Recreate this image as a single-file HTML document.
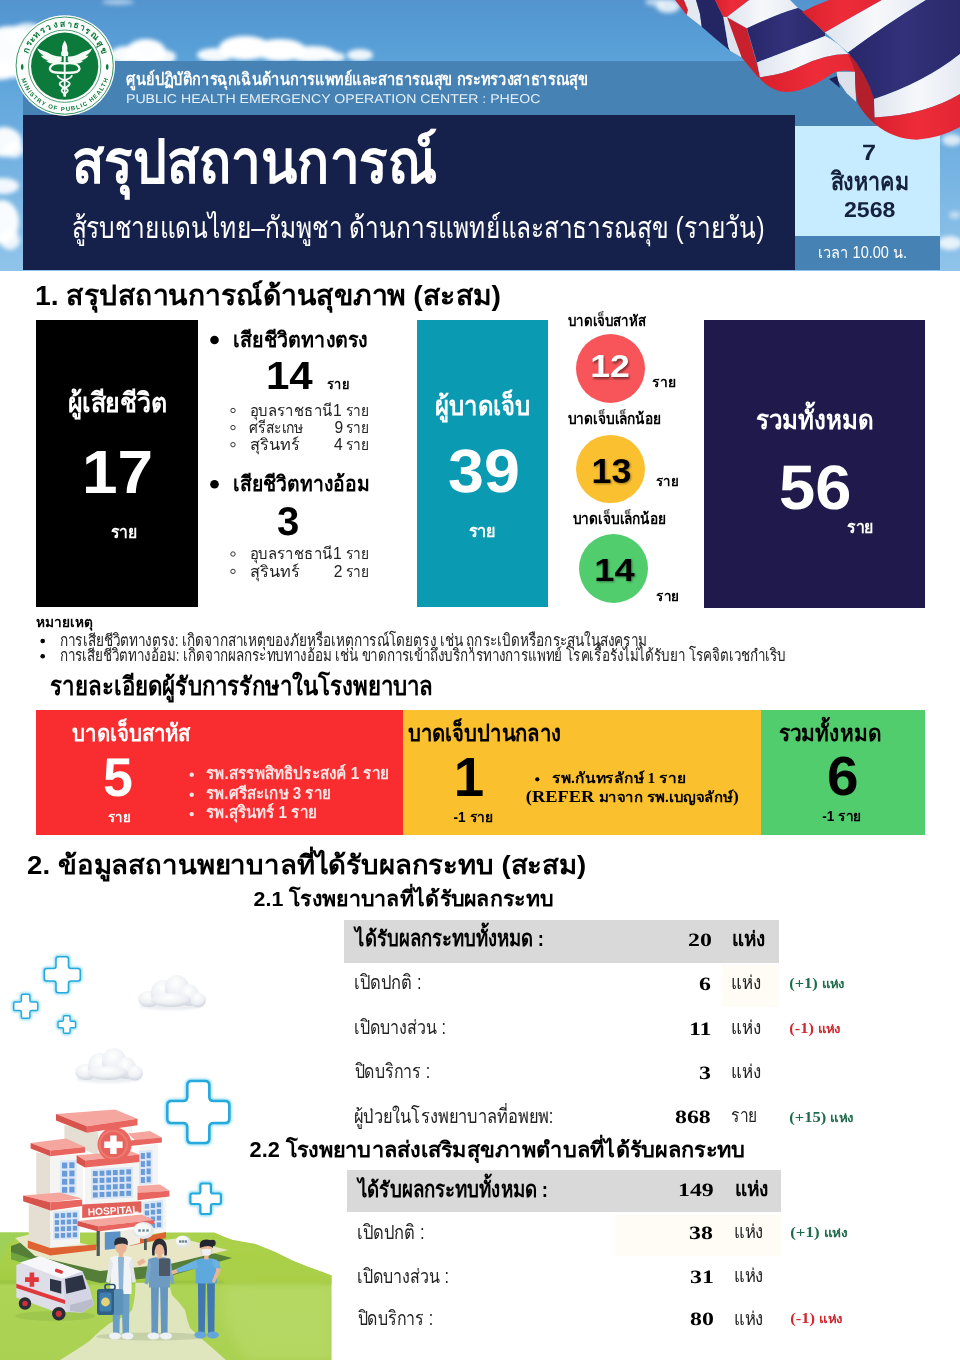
<!DOCTYPE html>
<html lang="th"><head><meta charset="utf-8"><title>สรุปสถานการณ์ สู้รบชายแดนไทย-กัมพูชา ด้านการแพทย์และสาธารณสุข</title>
<style>
html,body{margin:0;padding:0}
body{width:960px;height:1360px;position:relative;overflow:hidden;background:#fff;font-family:"Liberation Sans",sans-serif}
.a,.n,svg.l{position:absolute}
svg.l{left:0;top:0}
.n{white-space:nowrap;line-height:1;text-rendering:geometricPrecision;-webkit-font-smoothing:antialiased}
</style></head><body>
<svg class="l" width="960" height="271" viewBox="0 0 960 271">
<defs>
<linearGradient id="sky" x1="0" y1="0" x2="0" y2="1"><stop offset="0" stop-color="#5394cf"/><stop offset=".22" stop-color="#5aa2d9"/><stop offset=".6" stop-color="#74b2e2"/><stop offset="1" stop-color="#90c4ea"/></linearGradient>
<filter id="b2" x="-20%" y="-20%" width="140%" height="140%"><feGaussianBlur stdDeviation="2"/></filter>
<filter id="b3" x="-20%" y="-20%" width="140%" height="140%"><feGaussianBlur stdDeviation="3.5"/></filter>
<linearGradient id="fw" x1="0" y1="0" x2="1" y2="0"><stop offset="0" stop-color="#dfe4ee"/><stop offset=".5" stop-color="#f6f8fb"/><stop offset="1" stop-color="#e6eaf2"/></linearGradient>
<linearGradient id="fr" x1="0" y1="0" x2="1" y2="0"><stop offset="0" stop-color="#d8202c"/><stop offset=".5" stop-color="#ee2c39"/><stop offset="1" stop-color="#e32634"/></linearGradient>
<linearGradient id="fn" x1="0" y1="0" x2="1" y2="0"><stop offset="0" stop-color="#28276a"/><stop offset=".5" stop-color="#32317a"/><stop offset="1" stop-color="#2b2a6c"/></linearGradient>
</defs>
<rect width="960" height="271" fill="url(#sky)"/>
<g filter="url(#b2)">
<ellipse cx="10" cy="52" rx="33" ry="26" fill="#fff" opacity="0.97"/>
<ellipse cx="28" cy="36" rx="20" ry="13" fill="#fff" opacity="0.85"/>
<ellipse cx="-2" cy="70" rx="20" ry="10" fill="#fff" opacity="0.92"/>
<ellipse cx="126" cy="55" rx="16" ry="9" fill="#fff" opacity="0.96"/>
<ellipse cx="146" cy="52" rx="20" ry="13" fill="#fff" opacity="0.98"/>
<ellipse cx="164" cy="57" rx="12" ry="7" fill="#fff" opacity="0.92"/>
<ellipse cx="215" cy="55" rx="18" ry="7" fill="#fff" opacity="0.95"/>
<ellipse cx="245" cy="48" rx="26" ry="12" fill="#fff" opacity="1"/>
<ellipse cx="280" cy="50" rx="26" ry="11" fill="#fff" opacity="1"/>
<ellipse cx="312" cy="54" rx="24" ry="8" fill="#fff" opacity="0.97"/>
<ellipse cx="335" cy="57" rx="10" ry="5" fill="#fff" opacity="0.9"/>
<ellipse cx="360" cy="55" rx="13" ry="6" fill="#fff" opacity="0.9"/>
<ellipse cx="4" cy="142" rx="18" ry="15" fill="#fff" opacity="0.95"/>
<ellipse cx="14" cy="150" rx="10" ry="8" fill="#fff" opacity="0.8"/>
<ellipse cx="3" cy="186" rx="16" ry="8" fill="#fff" opacity="0.9"/>
<ellipse cx="2" cy="222" rx="17" ry="22" fill="#fff" opacity="0.95"/>
<ellipse cx="10" cy="240" rx="10" ry="10" fill="#fff" opacity="0.85"/>
<ellipse cx="668" cy="6" rx="12" ry="7" fill="#fff" opacity="0.8"/>
<ellipse cx="655" cy="2" rx="10" ry="4" fill="#fff" opacity="0.6"/>
<ellipse cx="118" cy="2" rx="16" ry="3" fill="#fff" opacity="0.5"/>
<ellipse cx="950" cy="4" rx="12" ry="5" fill="#fff" opacity="0.6"/>
<ellipse cx="952" cy="140" rx="10" ry="6" fill="#fff" opacity="0.75"/>
<ellipse cx="950" cy="243" rx="12" ry="7" fill="#fff" opacity="0.8"/>
<ellipse cx="955" cy="215" rx="6" ry="4" fill="#fff" opacity="0.5"/>
</g>
</svg>
<div class="a" style="left:22.5px;top:61px;width:917.5px;height:209px;background:#4682b4"></div>
<div class="a" style="left:22.5px;top:115px;width:772.5px;height:155px;background:#15214a"></div>
<div class="a" style="left:795px;top:126px;width:145px;height:109.5px;background:#c8ecff"></div>
<div class="a" style="left:36px;top:319.5px;width:162px;height:287.5px;background:#000"></div>
<div class="a" style="left:417px;top:319.5px;width:131px;height:287.5px;background:#0a9ab2"></div>
<div class="a" style="left:704px;top:320px;width:221px;height:288px;background:#1f1a4b"></div>
<div class="a" style="left:576px;top:334px;width:69px;height:69px;border-radius:50%;background:#f8555a"></div>
<div class="a" style="left:576.3px;top:434.7px;width:68.6px;height:68.6px;border-radius:50%;background:#fbc02f"></div>
<div class="a" style="left:579.3px;top:534px;width:69px;height:69px;border-radius:50%;background:#52cd6d"></div>
<div class="a" style="left:36px;top:709.5px;width:367px;height:125.5px;background:#f92c2f"></div>
<div class="a" style="left:402.7px;top:709.5px;width:358.3px;height:125.5px;background:#fbc02d"></div>
<div class="a" style="left:760.7px;top:709.5px;width:164.3px;height:125.5px;background:#52cd6d"></div>
<div class="a" style="left:344px;top:919.5px;width:434.5px;height:43px;background:#d9d9d9"></div>
<div class="a" style="left:346.7px;top:1169.7px;width:434.8px;height:42.8px;background:#d9d9d9"></div>
<div class="a" style="left:722px;top:965px;width:56.5px;height:42px;background:#fffcf6"></div>
<div class="a" style="left:615px;top:1215px;width:166.5px;height:41px;background:#fffcf6"></div>

<svg class="l" width="960" height="271" viewBox="0 0 960 271"><path d="M675,0 684,0 688,10 686.7,15Z" fill="#d2222e"/>
<path d="M684,0 696,0 700,14 701.7,26.7 686.7,15 688,10Z" fill="#e4e8f0"/>
<path d="M696,0 715,0 723.3,16.7 728.3,46.7 730,50.8 715,38.3 701.7,26.7 700,14Z" fill="#242563"/>
<path d="M723.3,16.7 727,17 735,21.7 741.7,57.5 730,50.8 728.3,46.7Z" fill="#dfe3ec"/>
<path d="M727,17 735,21.7 746.7,28.3 756.7,63.3 760,77.5 758.3,77.5 741.7,57.5Z" fill="#c8202c"/>
<path d="M715,0 749,0 740,7 727,17 723.3,16.7Z" fill="url(#fr)"/>
<path d="M727,17 L748,1 750,0 790,0 798,8 Q777,14 747,28.3Z" fill="url(#fw)"/>
<path d="M747,28.3 Q777,14 798,8 L803,11 825,33 825,36 Q800,46 757,62.5Z" fill="url(#fn)"/>
<path d="M757,62.5 Q800,46 825,36 Q838,42 848,54 Q825,54 800,66.5 Q785,74 760,77.3Z" fill="url(#fw)"/>
<path d="M760,77.3 Q785,74 800,66.5 Q825,54 848,54 Q862,60 871,78 L856,73 Q846,68 833,73 Q815,86 800,90 Q785,94 776,90 Q766,86 760,78.5Z" fill="url(#fr)"/>
<path d="M836.7,71.7 855,71.7 856,101.7 846.7,93.3 837.5,80Z" fill="#dde1ea"/>
<path d="M829,79 837,76 840,88Z" fill="#1e2058"/>
<path d="M848,54 Q864,60 872,76 L874,99 875,124 Q866,117 858,104 Q855,95 855,71.7 Q852,62 848,54Z" fill="#b41f2c"/>
<path d="M802,12 Q815,5 829,0 L882,0 Q850,18 825,32.5Z" fill="url(#fr)"/>
<path d="M825,32.5 Q850,18 882,0 L926,0 Q885,25 848,52.5Z" fill="url(#fw)"/>
<path d="M848,52.5 Q885,25 926,0 L960,0 960,54 Q925,82 874,99 Q866,72 848,52.5Z" fill="url(#fn)"/>
<path d="M874,99 Q925,82 960,54 L960,94 Q925,115 874.7,117.5Z" fill="url(#fw)"/>
<path d="M874.7,117.5 Q925,115 960,94 L960,127 Q940,138 916.7,139.7 Q893,139 875,124Z" fill="url(#fr)"/></svg>
<svg class="l" width="960" height="1360" viewBox="0 0 960 1360">
<defs>
<filter id="g1" x="-30%" y="-30%" width="160%" height="160%"><feGaussianBlur stdDeviation="1.6"/></filter>
<filter id="g2" x="-30%" y="-30%" width="160%" height="160%"><feGaussianBlur stdDeviation="1"/></filter>
<filter id="g3" x="-10%" y="-10%" width="120%" height="120%"><feGaussianBlur stdDeviation="5"/></filter>
<radialGradient id="cl" cx=".45" cy=".3" r=".8"><stop offset="0" stop-color="#fff"/><stop offset=".55" stop-color="#eef0f4"/><stop offset="1" stop-color="#c3cad5"/></radialGradient>
<linearGradient id="gr" x1="0" y1="0" x2="0" y2="1"><stop offset="0" stop-color="#aad24e"/><stop offset=".37" stop-color="#a5cd44"/><stop offset=".39" stop-color="#98c23c"/><stop offset=".42" stop-color="#aed456"/><stop offset="1" stop-color="#abd152"/></linearGradient>
<linearGradient id="grf" x1="0" y1="0" x2="1" y2="0"><stop offset="0" stop-color="#fff" stop-opacity="0"/><stop offset="1" stop-color="#fff" stop-opacity="1"/></linearGradient>
<clipPath id="gc"><path d="M0,1232.5 L214,1232.5 Q224,1237 232.5,1240 Q245,1242 255,1243.8 Q275,1251 292.5,1260.6 Q310,1268 322.5,1272 L331.5,1275.6 L331.5,1360 L0,1360Z"/></clipPath>
</defs>
<path d="M56.0,959.1 Q56.0,956.7 58.4,956.7 L66.2,956.7 Q68.5,956.7 68.5,959.1 L68.5,966.1 Q68.5,968.5 70.9,968.5 L77.9,968.5 Q80.3,968.5 80.3,970.8 L80.3,978.6 Q80.3,981.0 77.9,981.0 L70.9,981.0 Q68.5,981.0 68.5,983.3 L68.5,990.3 Q68.5,992.7 66.2,992.7 L58.4,992.7 Q56.0,992.7 56.0,990.3 L56.0,983.3 Q56.0,981.0 53.7,981.0 L46.7,981.0 Q44.3,981.0 44.3,978.6 L44.3,970.8 Q44.3,968.5 46.7,968.5 L53.7,968.5 Q56.0,968.5 56.0,966.1 Z" fill="none" stroke="#8bdcf5" stroke-width="4.2" filter="url(#g2)" opacity=".85"/><path d="M56.0,959.1 Q56.0,956.7 58.4,956.7 L66.2,956.7 Q68.5,956.7 68.5,959.1 L68.5,966.1 Q68.5,968.5 70.9,968.5 L77.9,968.5 Q80.3,968.5 80.3,970.8 L80.3,978.6 Q80.3,981.0 77.9,981.0 L70.9,981.0 Q68.5,981.0 68.5,983.3 L68.5,990.3 Q68.5,992.7 66.2,992.7 L58.4,992.7 Q56.0,992.7 56.0,990.3 L56.0,983.3 Q56.0,981.0 53.7,981.0 L46.7,981.0 Q44.3,981.0 44.3,978.6 L44.3,970.8 Q44.3,968.5 46.7,968.5 L53.7,968.5 Q56.0,968.5 56.0,966.1 Z" fill="#fff" stroke="#27a9db" stroke-width="1.6"/>
<path d="M21.4,995.9 Q21.4,994.3 23.1,994.3 L28.3,994.3 Q29.9,994.3 29.9,995.9 L29.9,1000.4 Q29.9,1002.0 31.6,1002.0 L36.1,1002.0 Q37.7,1002.0 37.7,1003.7 L37.7,1008.9 Q37.7,1010.5 36.1,1010.5 L31.6,1010.5 Q29.9,1010.5 29.9,1012.2 L29.9,1016.7 Q29.9,1018.3 28.3,1018.3 L23.1,1018.3 Q21.4,1018.3 21.4,1016.7 L21.4,1012.2 Q21.4,1010.5 19.8,1010.5 L15.3,1010.5 Q13.7,1010.5 13.7,1008.9 L13.7,1003.7 Q13.7,1002.0 15.3,1002.0 L19.8,1002.0 Q21.4,1002.0 21.4,1000.4 Z" fill="none" stroke="#8bdcf5" stroke-width="4.1" filter="url(#g2)" opacity=".85"/><path d="M21.4,995.9 Q21.4,994.3 23.1,994.3 L28.3,994.3 Q29.9,994.3 29.9,995.9 L29.9,1000.4 Q29.9,1002.0 31.6,1002.0 L36.1,1002.0 Q37.7,1002.0 37.7,1003.7 L37.7,1008.9 Q37.7,1010.5 36.1,1010.5 L31.6,1010.5 Q29.9,1010.5 29.9,1012.2 L29.9,1016.7 Q29.9,1018.3 28.3,1018.3 L23.1,1018.3 Q21.4,1018.3 21.4,1016.7 L21.4,1012.2 Q21.4,1010.5 19.8,1010.5 L15.3,1010.5 Q13.7,1010.5 13.7,1008.9 L13.7,1003.7 Q13.7,1002.0 15.3,1002.0 L19.8,1002.0 Q21.4,1002.0 21.4,1000.4 Z" fill="#fff" stroke="#27a9db" stroke-width="1.5"/>
<path d="M63.5,1016.9 Q63.5,1015.7 64.8,1015.7 L68.8,1015.7 Q70.0,1015.7 70.0,1016.9 L70.0,1019.9 Q70.0,1021.2 71.3,1021.2 L74.3,1021.2 Q75.5,1021.2 75.5,1022.4 L75.5,1026.4 Q75.5,1027.7 74.3,1027.7 L71.3,1027.7 Q70.0,1027.7 70.0,1028.9 L70.0,1031.9 Q70.0,1033.2 68.8,1033.2 L64.8,1033.2 Q63.5,1033.2 63.5,1031.9 L63.5,1028.9 Q63.5,1027.7 62.3,1027.7 L59.3,1027.7 Q58.0,1027.7 58.0,1026.4 L58.0,1022.4 Q58.0,1021.2 59.3,1021.2 L62.3,1021.2 Q63.5,1021.2 63.5,1019.9 Z" fill="none" stroke="#8bdcf5" stroke-width="4.0" filter="url(#g2)" opacity=".85"/><path d="M63.5,1016.9 Q63.5,1015.7 64.8,1015.7 L68.8,1015.7 Q70.0,1015.7 70.0,1016.9 L70.0,1019.9 Q70.0,1021.2 71.3,1021.2 L74.3,1021.2 Q75.5,1021.2 75.5,1022.4 L75.5,1026.4 Q75.5,1027.7 74.3,1027.7 L71.3,1027.7 Q70.0,1027.7 70.0,1028.9 L70.0,1031.9 Q70.0,1033.2 68.8,1033.2 L64.8,1033.2 Q63.5,1033.2 63.5,1031.9 L63.5,1028.9 Q63.5,1027.7 62.3,1027.7 L59.3,1027.7 Q58.0,1027.7 58.0,1026.4 L58.0,1022.4 Q58.0,1021.2 59.3,1021.2 L62.3,1021.2 Q63.5,1021.2 63.5,1019.9 Z" fill="#fff" stroke="#27a9db" stroke-width="1.4"/>
<path d="M187.3,1085.2 Q187.3,1081.0 191.5,1081.0 L205.1,1081.0 Q209.3,1081.0 209.3,1085.2 L209.3,1096.8 Q209.3,1101.0 213.5,1101.0 L225.1,1101.0 Q229.3,1101.0 229.3,1105.2 L229.3,1118.8 Q229.3,1123.0 225.1,1123.0 L213.5,1123.0 Q209.3,1123.0 209.3,1127.2 L209.3,1138.8 Q209.3,1143.0 205.1,1143.0 L191.5,1143.0 Q187.3,1143.0 187.3,1138.8 L187.3,1127.2 Q187.3,1123.0 183.1,1123.0 L171.5,1123.0 Q167.3,1123.0 167.3,1118.8 L167.3,1105.2 Q167.3,1101.0 171.5,1101.0 L183.1,1101.0 Q187.3,1101.0 187.3,1096.8 Z" fill="none" stroke="#8bdcf5" stroke-width="5.2" filter="url(#g2)" opacity=".85"/><path d="M187.3,1085.2 Q187.3,1081.0 191.5,1081.0 L205.1,1081.0 Q209.3,1081.0 209.3,1085.2 L209.3,1096.8 Q209.3,1101.0 213.5,1101.0 L225.1,1101.0 Q229.3,1101.0 229.3,1105.2 L229.3,1118.8 Q229.3,1123.0 225.1,1123.0 L213.5,1123.0 Q209.3,1123.0 209.3,1127.2 L209.3,1138.8 Q209.3,1143.0 205.1,1143.0 L191.5,1143.0 Q187.3,1143.0 187.3,1138.8 L187.3,1127.2 Q187.3,1123.0 183.1,1123.0 L171.5,1123.0 Q167.3,1123.0 167.3,1118.8 L167.3,1105.2 Q167.3,1101.0 171.5,1101.0 L183.1,1101.0 Q187.3,1101.0 187.3,1096.8 Z" fill="#fff" stroke="#27a9db" stroke-width="2.6"/>
<path d="M200.4,1185.4 Q200.4,1183.5 202.4,1183.5 L209.0,1183.5 Q210.9,1183.5 210.9,1185.4 L210.9,1191.5 Q210.9,1193.5 212.9,1193.5 L219.0,1193.5 Q220.9,1193.5 220.9,1195.4 L220.9,1202.0 Q220.9,1204.0 219.0,1204.0 L212.9,1204.0 Q210.9,1204.0 210.9,1205.9 L210.9,1212.0 Q210.9,1214.0 209.0,1214.0 L202.4,1214.0 Q200.4,1214.0 200.4,1212.0 L200.4,1205.9 Q200.4,1204.0 198.5,1204.0 L192.4,1204.0 Q190.4,1204.0 190.4,1202.0 L190.4,1195.4 Q190.4,1193.5 192.4,1193.5 L198.5,1193.5 Q200.4,1193.5 200.4,1191.5 Z" fill="none" stroke="#8bdcf5" stroke-width="4.800000000000001" filter="url(#g2)" opacity=".85"/><path d="M200.4,1185.4 Q200.4,1183.5 202.4,1183.5 L209.0,1183.5 Q210.9,1183.5 210.9,1185.4 L210.9,1191.5 Q210.9,1193.5 212.9,1193.5 L219.0,1193.5 Q220.9,1193.5 220.9,1195.4 L220.9,1202.0 Q220.9,1204.0 219.0,1204.0 L212.9,1204.0 Q210.9,1204.0 210.9,1205.9 L210.9,1212.0 Q210.9,1214.0 209.0,1214.0 L202.4,1214.0 Q200.4,1214.0 200.4,1212.0 L200.4,1205.9 Q200.4,1204.0 198.5,1204.0 L192.4,1204.0 Q190.4,1204.0 190.4,1202.0 L190.4,1195.4 Q190.4,1193.5 192.4,1193.5 L198.5,1193.5 Q200.4,1193.5 200.4,1191.5 Z" fill="#fff" stroke="#27a9db" stroke-width="2.2"/>
<g transform="translate(137 975) scale(1.0)"><ellipse cx="34" cy="31" rx="32" ry="4" fill="#c8ced8" opacity=".35" filter="url(#g2)"/><ellipse cx="12" cy="24" rx="11" ry="8" fill="url(#cl)"/><ellipse cx="26" cy="18" rx="12" ry="13" fill="url(#cl)"/><ellipse cx="40" cy="13" rx="12" ry="13" fill="url(#cl)"/><ellipse cx="52" cy="20" rx="10" ry="11" fill="url(#cl)"/><ellipse cx="61" cy="25" rx="8" ry="7.5" fill="url(#cl)"/><ellipse cx="34" cy="25" rx="20" ry="7" fill="url(#cl)"/></g>
<g transform="translate(74 1048) scale(1.0)"><ellipse cx="34" cy="31" rx="32" ry="4" fill="#c8ced8" opacity=".35" filter="url(#g2)"/><ellipse cx="12" cy="24" rx="11" ry="8" fill="url(#cl)"/><ellipse cx="26" cy="18" rx="12" ry="13" fill="url(#cl)"/><ellipse cx="40" cy="13" rx="12" ry="13" fill="url(#cl)"/><ellipse cx="52" cy="20" rx="10" ry="11" fill="url(#cl)"/><ellipse cx="61" cy="25" rx="8" ry="7.5" fill="url(#cl)"/><ellipse cx="34" cy="25" rx="20" ry="7" fill="url(#cl)"/></g>
<g clip-path="url(#gc)">
<rect x="0" y="1232" width="345" height="128" fill="url(#gr)"/>
<path d="M214,1232 L332,1275 L332,1284 L225,1284 Q205,1262 214,1232Z" fill="#abd048" opacity=".8"/>
<path d="M225,1286 L332,1286 L332,1360 L250,1360 Q215,1320 225,1286Z" fill="#bcdc70" opacity=".55" filter="url(#g3)"/>
<path d="M84,1270 L108,1266 L132,1272 L134,1283 L100,1283 Z" fill="#7fc644"/>
<path d="M0,1280.5 L96,1280.5 L96,1282.5 L0,1282.5Z" fill="#9cc748" opacity=".8"/>
<path d="M0,1232 L30,1232 L8,1243 L0,1262Z" fill="#9fd158"/>
<path d="M135.3,1282.8 L169.7,1282.8 Q170,1290 172,1295 Q180,1303 185,1310 Q187,1320 190,1328 Q200,1338 209,1345 L226,1360 L60,1360 Q80,1348 90,1340.6 Q100,1330 110,1323 Q128,1316 132,1310 Q136,1296 135.3,1282.8Z" fill="#dfe6bd"/>
</g>
<path d="M11,1246 28,1240 100,1258 190,1247 232,1258 170,1276 100,1283 56,1272 11,1259Z" fill="#557f38"/>
<path d="M11,1252 40,1262 40,1269 11,1259Z" fill="#6fa640"/>
<path d="M15,1238 40,1232 100,1248 180,1238 228,1250 170,1264 100,1271 35,1256Z" fill="#e9e6c6"/>
<path d="M28.8,1204 50.3,1210 50.3,1248 28.8,1240.6Z" fill="#e4dfd2"/>
<path d="M50.3,1210 80,1208 80,1244 50.3,1248Z" fill="#f4f4f2"/>
<path d="M53,1211.5 L79,1210.3 L79,1238.8 L53,1240Z" fill="#dbe7f7"/><rect x="54.8" y="1213.4" width="4.3" height="4.8" fill="#6a9bd9"/><rect x="54.8" y="1220.1" width="4.3" height="4.8" fill="#6a9bd9"/><rect x="54.8" y="1226.7" width="4.3" height="4.8" fill="#6a9bd9"/><rect x="54.8" y="1233.3" width="4.3" height="4.8" fill="#6a9bd9"/><rect x="60.8" y="1213.1" width="4.3" height="4.8" fill="#6a9bd9"/><rect x="60.8" y="1219.8" width="4.3" height="4.8" fill="#6a9bd9"/><rect x="60.8" y="1226.4" width="4.3" height="4.8" fill="#6a9bd9"/><rect x="60.8" y="1233.0" width="4.3" height="4.8" fill="#6a9bd9"/><rect x="66.8" y="1212.8" width="4.3" height="4.8" fill="#6a9bd9"/><rect x="66.8" y="1219.5" width="4.3" height="4.8" fill="#6a9bd9"/><rect x="66.8" y="1226.1" width="4.3" height="4.8" fill="#6a9bd9"/><rect x="66.8" y="1232.7" width="4.3" height="4.8" fill="#6a9bd9"/><rect x="72.8" y="1212.5" width="4.3" height="4.8" fill="#6a9bd9"/><rect x="72.8" y="1219.2" width="4.3" height="4.8" fill="#6a9bd9"/><rect x="72.8" y="1225.8" width="4.3" height="4.8" fill="#6a9bd9"/><rect x="72.8" y="1232.4" width="4.3" height="4.8" fill="#6a9bd9"/>
<path d="M140,1201 166,1197 166,1232 140,1236Z" fill="#f4f4f2"/>
<path d="M143,1202 L163,1199.84 L163,1228.34 L143,1230.5Z" fill="#dbe7f7"/><rect x="144.8" y="1203.9" width="4.3" height="4.8" fill="#6a9bd9"/><rect x="144.8" y="1210.6" width="4.3" height="4.8" fill="#6a9bd9"/><rect x="144.8" y="1217.2" width="4.3" height="4.8" fill="#6a9bd9"/><rect x="144.8" y="1223.8" width="4.3" height="4.8" fill="#6a9bd9"/><rect x="150.8" y="1203.2" width="4.3" height="4.8" fill="#6a9bd9"/><rect x="150.8" y="1209.8" width="4.3" height="4.8" fill="#6a9bd9"/><rect x="150.8" y="1216.5" width="4.3" height="4.8" fill="#6a9bd9"/><rect x="150.8" y="1223.1" width="4.3" height="4.8" fill="#6a9bd9"/><rect x="156.8" y="1202.5" width="4.3" height="4.8" fill="#6a9bd9"/><rect x="156.8" y="1209.1" width="4.3" height="4.8" fill="#6a9bd9"/><rect x="156.8" y="1215.7" width="4.3" height="4.8" fill="#6a9bd9"/><rect x="156.8" y="1222.4" width="4.3" height="4.8" fill="#6a9bd9"/>
<path d="M27.8,1240.6 50.3,1248 96.3,1244.4 96.3,1250 50.3,1255.6 27.8,1248Z" fill="#df6233"/>
<path d="M130,1240 166,1232 166,1238 130,1246Z" fill="#df6233"/>
<path d="M36.3,1152 50.3,1156 50.3,1202 36.3,1194Z" fill="#e4dfd2"/>
<path d="M50.3,1156 83,1153.5 83,1198 50.3,1202Z" fill="#f4f4f2"/>
<path d="M60,1160.5 L76.5,1159.92 L76.5,1194.42 L60,1195Z" fill="#dbe7f7"/><rect x="62.0" y="1162.6" width="5.2" height="5.8" fill="#6a9bd9"/><rect x="62.0" y="1170.8" width="5.2" height="5.8" fill="#6a9bd9"/><rect x="62.0" y="1178.9" width="5.2" height="5.8" fill="#6a9bd9"/><rect x="62.0" y="1187.0" width="5.2" height="5.8" fill="#6a9bd9"/><rect x="69.3" y="1162.3" width="5.2" height="5.8" fill="#6a9bd9"/><rect x="69.3" y="1170.5" width="5.2" height="5.8" fill="#6a9bd9"/><rect x="69.3" y="1178.6" width="5.2" height="5.8" fill="#6a9bd9"/><rect x="69.3" y="1186.7" width="5.2" height="5.8" fill="#6a9bd9"/>
<path d="M85,1167 139.4,1161.5 139.4,1205 85,1209Z" fill="#f4f4f2"/>
<path d="M91,1169 L133,1167.0 L133,1197.5 L91,1199.5Z" fill="#dbe7f7"/><rect x="92.9" y="1171.0" width="4.8" height="5.1" fill="#6a9bd9"/><rect x="92.9" y="1178.1" width="4.8" height="5.1" fill="#6a9bd9"/><rect x="92.9" y="1185.2" width="4.8" height="5.1" fill="#6a9bd9"/><rect x="92.9" y="1192.4" width="4.8" height="5.1" fill="#6a9bd9"/><rect x="99.6" y="1170.7" width="4.8" height="5.1" fill="#6a9bd9"/><rect x="99.6" y="1177.8" width="4.8" height="5.1" fill="#6a9bd9"/><rect x="99.6" y="1184.9" width="4.8" height="5.1" fill="#6a9bd9"/><rect x="99.6" y="1192.0" width="4.8" height="5.1" fill="#6a9bd9"/><rect x="106.3" y="1170.3" width="4.8" height="5.1" fill="#6a9bd9"/><rect x="106.3" y="1177.5" width="4.8" height="5.1" fill="#6a9bd9"/><rect x="106.3" y="1184.6" width="4.8" height="5.1" fill="#6a9bd9"/><rect x="106.3" y="1191.7" width="4.8" height="5.1" fill="#6a9bd9"/><rect x="112.9" y="1170.0" width="4.8" height="5.1" fill="#6a9bd9"/><rect x="112.9" y="1177.1" width="4.8" height="5.1" fill="#6a9bd9"/><rect x="112.9" y="1184.2" width="4.8" height="5.1" fill="#6a9bd9"/><rect x="112.9" y="1191.4" width="4.8" height="5.1" fill="#6a9bd9"/><rect x="119.6" y="1169.7" width="4.8" height="5.1" fill="#6a9bd9"/><rect x="119.6" y="1176.8" width="4.8" height="5.1" fill="#6a9bd9"/><rect x="119.6" y="1183.9" width="4.8" height="5.1" fill="#6a9bd9"/><rect x="119.6" y="1191.0" width="4.8" height="5.1" fill="#6a9bd9"/><rect x="126.3" y="1169.3" width="4.8" height="5.1" fill="#6a9bd9"/><rect x="126.3" y="1176.5" width="4.8" height="5.1" fill="#6a9bd9"/><rect x="126.3" y="1183.6" width="4.8" height="5.1" fill="#6a9bd9"/><rect x="126.3" y="1190.7" width="4.8" height="5.1" fill="#6a9bd9"/>
<path d="M139.4,1147 158,1143.5 158,1188 139.4,1190Z" fill="#f4f4f2"/>
<path d="M139,1151 L152.5,1149.85 L152.5,1183.85 L139,1185Z" fill="#dbe7f7"/><rect x="140.8" y="1153.1" width="4.1" height="5.8" fill="#6a9bd9"/><rect x="140.8" y="1161.1" width="4.1" height="5.8" fill="#6a9bd9"/><rect x="140.8" y="1169.1" width="4.1" height="5.8" fill="#6a9bd9"/><rect x="140.8" y="1177.1" width="4.1" height="5.8" fill="#6a9bd9"/><rect x="146.6" y="1152.5" width="4.1" height="5.8" fill="#6a9bd9"/><rect x="146.6" y="1160.5" width="4.1" height="5.8" fill="#6a9bd9"/><rect x="146.6" y="1168.5" width="4.1" height="5.8" fill="#6a9bd9"/><rect x="146.6" y="1176.5" width="4.1" height="5.8" fill="#6a9bd9"/>
<path d="M64.4,1125 98,1132 98,1156 64.4,1140Z" fill="#e4dfd2"/>
<path d="M98,1132 132,1126 132,1152 98,1156Z" fill="#f4f4f2"/>
<path d="M56,1114 115,1109.4 137.5,1118.8 86.9,1126.3Z" fill="#f5a79f"/><path d="M86.9,1126.3 137.5,1118.8 137.5,1125.3 86.9,1132.8Z" fill="#e8665f"/><path d="M56,1114 86.9,1126.3 86.9,1132.8 56,1120.6Z" fill="#d9534d"/>
<path d="M30.6,1143 66.3,1138.4 85,1146.9 50.3,1150.5Z" fill="#f5a79f"/><path d="M50.3,1150.5 85,1146.9 85,1152.5 50.3,1156.3Z" fill="#e8665f"/><path d="M30.6,1143 50.3,1150.5 50.3,1156.3 30.6,1148.5Z" fill="#d9534d"/>
<path d="M128,1133.5 150,1131 161.9,1137.5 135,1140.5Z" fill="#f5a79f"/><path d="M130,1140.5 161.9,1137.5 161.9,1142.6 130,1146Z" fill="#e8665f"/>
<path d="M76.6,1155.3 130,1151 139.4,1154.5 85,1160.5Z" fill="#f5a79f"/><path d="M85,1160.5 139.4,1154.5 139.4,1161.9 85,1167.5Z" fill="#e8665f"/><path d="M76.6,1155.3 85,1160.5 85,1167.5 76.6,1162.8Z" fill="#d9534d"/>
<path d="M23.1,1195.6 60,1192.5 82.2,1198.5 50.3,1202.2Z" fill="#f5a79f"/><path d="M50.3,1202.2 82.2,1199.4 82.2,1206 50.3,1210.6Z" fill="#e8665f"/><path d="M23.1,1195.6 50.3,1202.2 50.3,1210.6 23.1,1201.3Z" fill="#d9534d"/>
<path d="M137.5,1186 160,1184.5 169.4,1190.5 137.5,1193.5Z" fill="#f5a79f"/><path d="M137.5,1193 169.4,1190.8 169.4,1196.6 137.5,1200.3Z" fill="#e8665f"/>
<path d="M82.2,1204.5 141.3,1201.3 141.3,1212.5 82.2,1218Z" fill="#e2605a"/>
<text x="0" y="0" transform="translate(88 1215.4) rotate(-3.2) scale(1.02 1)" font-family="'Liberation Sans',sans-serif" font-weight="700" font-size="10" text-rendering="geometricPrecision" fill="#fff">HOSPITAL</text>
<circle cx="114.5" cy="1144.5" r="17" fill="#e8665f"/><circle cx="113.2" cy="1144.5" r="14.6" fill="#ee7a72"/><circle cx="113.2" cy="1144.5" r="12.6" fill="#e8625c"/>
<path d="M110.2,1135.5h6.4v6h6v6.4h-6v6h-6.4v-6h-6v-6.4h6z" fill="#fff"/>
<path d="M104.7,1232.2 120.6,1231.3 120.6,1248 104.7,1250Z" fill="#5c92c8"/>
<path d="M98,1231 104.7,1232 104.7,1250 98,1252Z" fill="#e9e6da"/>
<path d="M120.6,1231 140,1228 140,1243 120.6,1248Z" fill="#efece2"/>
<path d="M77.5,1221 141.3,1214.4 154.4,1220 98.1,1226.3Z" fill="#f5a79f"/><path d="M98.1,1226.3 154.4,1220 154.4,1224 98.1,1231.5Z" fill="#e8665f"/><path d="M77.5,1221 98.1,1226.3 98.1,1231.5 77.5,1225.8Z" fill="#d9534d"/>
<rect x="96.6" y="1231" width="3.2" height="25" fill="#4d5a55"/><rect x="144" y="1229" width="2.8" height="21" fill="#4d5a55"/>
<ellipse cx="143.5" cy="1230.5" rx="10.5" ry="8.4" fill="#e3e8ea"/><ellipse cx="142.5" cy="1229.5" rx="8.4" ry="6.3" fill="#f6f8f8"/>
<rect x="138.3" y="1229.3" width="2.4" height="2.4" fill="#6d8796"/>
<rect x="142.3" y="1229.3" width="2.4" height="2.4" fill="#6d8796"/>
<rect x="146.3" y="1229.3" width="2.4" height="2.4" fill="#6d8796"/>
<ellipse cx="183" cy="1241.5" rx="7.5" ry="6.0" fill="#e3e8ea"/><ellipse cx="182" cy="1240.5" rx="6.0" ry="4.5" fill="#f6f8f8"/>
<rect x="179.0" y="1240.3" width="2.4" height="2.4" fill="#6d8796"/>
<rect x="181.8" y="1240.3" width="2.4" height="2.4" fill="#6d8796"/>
<rect x="184.7" y="1240.3" width="2.4" height="2.4" fill="#6d8796"/>
<ellipse cx="55" cy="1316" rx="40" ry="5" fill="#5d8f3a" opacity=".18"/>
<path d="M16.3,1265 40,1256.3 82.5,1271.5 90,1290 93.8,1305 82.5,1312.5 53.8,1311.3 16.3,1297.5Z" fill="#dedee9"/>
<path d="M20,1262.5 40,1256.3 82.5,1271.5 62.5,1278.8Z" fill="#f7f7fb"/>
<path d="M62.5,1278.8 82.5,1271.5 90,1290 93.8,1305 82.5,1312.5 66,1312Z" fill="#d4d4e4"/>
<path d="M16.3,1283.8 65,1300 65,1304 16.3,1288Z" fill="#e0383d"/>
<path d="M65,1279 82.5,1275 86.3,1288.8 66.3,1293.8Z" fill="#2c3344"/>
<path d="M50,1278.8 61.3,1281.3 61.3,1293.8 50,1290.5Z" fill="#2c3344"/>
<path d="M29.6,1272.5h4.6v4.8h4.6v4.6h-4.6v4.8h-4.6v-4.8h-4.6v-4.6h4.6z" fill="#e0383d"/>
<rect x="55" y="1269.5" width="8" height="3.4" rx="1.2" fill="#e0383d" transform="rotate(18 59 1271)"/>
<circle cx="25" cy="1303.5" r="6.2" fill="#2a2d36"/><circle cx="25" cy="1303.5" r="2.8" fill="#c8323a"/>
<circle cx="58.8" cy="1313.8" r="6.8" fill="#2a2d36"/><circle cx="58.8" cy="1313.8" r="3.1" fill="#c8323a"/>
<path d="M70,1305 92,1299 93.8,1305 82.5,1312.5 70,1311Z" fill="#b9bccb"/>
<ellipse cx="152" cy="1336.5" rx="56" ry="4" fill="#9aa884" opacity=".35"/>
<path d="M112.5,1292 L120.4,1292 L119.4,1334 L113.0,1334Z" fill="#6a9ec4"/><path d="M121.6,1292 L129.5,1292 L129.0,1334 L122.6,1334Z" fill="#6a9ec4"/><ellipse cx="115.0" cy="1336" rx="6" ry="3.4" fill="#eef1f5"/><ellipse cx="127.5" cy="1336" rx="6" ry="3.4" fill="#eef1f5"/><path d="M110.0,1257.5 Q121,1253.5 132.0,1257.5 L131.5,1294 L110.5,1294Z" fill="#f1f3f6"/><path d="M110.0,1257.5 L106.0,1282 L109.5,1283 L113.0,1264Z" fill="#e3e6eb"/><path d="M132.0,1257.5 L136.0,1282 L132.5,1283 L129.0,1264Z" fill="#e3e6eb"/><rect x="118.8" y="1251" width="4.4" height="6" fill="#eab595"/><ellipse cx="121" cy="1247" rx="5.8" ry="6.8" fill="#eab595"/><path d="M114.4,1245.5 Q113,1237.2 121,1237.2 Q129.4,1237.2 127.6,1245.5 Q124,1241.5 114.4,1245.5Z" fill="#2b2f3a"/>
<path d="M118,1257 L124,1257 L123,1292 L119,1292Z" fill="#8eb4d3"/>
<rect x="97" y="1289" width="26.5" height="26" rx="3" fill="#5d93bb"/><rect x="97" y="1289" width="17" height="26" rx="3" fill="#2f5f86"/><rect x="99.5" y="1292.5" width="12" height="19" rx="2" fill="#3f7fae"/><circle cx="105.5" cy="1302" r="4.4" fill="#e3d27a"/><rect x="105" y="1284.5" width="10" height="5" rx="2" fill="none" stroke="#2b4f6e" stroke-width="1.6"/>
<path d="M151.0,1285.5 L158.9,1285.5 L157.9,1334 L151.5,1334Z" fill="#6496bf"/><path d="M160.1,1285.5 L168.0,1285.5 L167.5,1334 L161.1,1334Z" fill="#6496bf"/><ellipse cx="153.5" cy="1336" rx="6" ry="3.4" fill="#eef1f5"/><ellipse cx="166.0" cy="1336" rx="6" ry="3.4" fill="#eef1f5"/><path d="M148.5,1259.0 Q159.5,1255.0 170.5,1259.0 L170.0,1287.5 L149.0,1287.5Z" fill="#6d9bc1"/><path d="M148.5,1259.0 L144.5,1283.5 L148.0,1284.5 L151.5,1265.5Z" fill="#79a5c9"/><path d="M170.5,1259.0 L174.5,1283.5 L171.0,1284.5 L167.5,1265.5Z" fill="#79a5c9"/><rect x="157.3" y="1252.5" width="4.4" height="6" fill="#eab595"/><ellipse cx="159.5" cy="1248.5" rx="5.8" ry="6.8" fill="#eab595"/><path d="M152.3,1255.5 Q150.5,1239.0 159.5,1238.5 Q168.5,1239.0 166.7,1255.5 L164.3,1255.5 Q165.3,1245.0 159.5,1244.0 Q153.7,1245.0 154.7,1255.5Z" fill="#2a2c36"/>
<rect x="159" y="1258.5" width="11" height="17.5" rx="1" fill="#4d5866"/>
<path d="M197.9,1281.4 L205.8,1281.4 L204.8,1333 L198.4,1333Z" fill="#4178b0"/><path d="M207.0,1281.4 L214.9,1281.4 L214.4,1333 L208.0,1333Z" fill="#4178b0"/><ellipse cx="200.4" cy="1335" rx="6" ry="3.4" fill="#62a6dc"/><ellipse cx="212.9" cy="1335" rx="6" ry="3.4" fill="#62a6dc"/><path d="M195.4,1259.9 Q206.4,1255.9 217.4,1259.9 L216.9,1283.4 L195.9,1283.4Z" fill="#5da8dc"/><rect x="204.20000000000002" y="1253.4" width="4.4" height="6" fill="#eab595"/><ellipse cx="206.4" cy="1249.4" rx="5.8" ry="6.8" fill="#eab595"/><path d="M201.0,1249.4 Q206.4,1247.9 211.8,1249.4 L210.20000000000002,1254.9 Q206.4,1256.4 202.6,1254.9Z" fill="#eef1f4"/><path d="M199.8,1247.9 Q198.4,1239.6000000000001 206.4,1239.6000000000001 Q214.8,1239.6000000000001 213.0,1247.9 Q209.4,1243.9 199.8,1247.9Z" fill="#23262f"/>
<circle cx="212.5" cy="1243" r="3.2" fill="#23262f"/>
<path d="M196,1260 L176,1269 L177,1273 L198,1268Z" fill="#6bb2e3"/><path d="M176.5,1269 L171,1271 L172,1274.5 L177.5,1273Z" fill="#eab595"/>
<path d="M216.5,1260 L221,1270 L214.5,1283 L212,1281.5 L216,1271Z" fill="#eab595"/><path d="M212,1259 L219.5,1261.5 L220.5,1268.5 L214,1268Z" fill="#6bb2e3"/>
<path d="M137,1262 L143,1258.5 L146,1262 L139,1266Z" fill="#eab595"/>
</svg>
<svg class="l" width="960" height="1360" viewBox="0 0 960 1360" role="img" font-family="'Liberation Sans',sans-serif" aria-label="ศูนย์ปฏิบัติการฉุกเฉินด้านการแพทย์และสาธารณสุข กระทรวงสาธารณสุข — สรุปสถานการณ์สู้รบชายแดนไทย–กัมพูชา ด้านการแพทย์และสาธารณสุข (รายวัน) 7 สิงหาคม 2568 เวลา 10.00 น.">
<defs><filter id="ts" x="-20%" y="-20%" width="140%" height="150%"><feGaussianBlur stdDeviation="1.1"/></filter></defs>
<circle cx="64.7" cy="65.6" r="50.3" fill="#fdfefd"/>
<circle cx="64.7" cy="65.6" r="48.6" fill="none" stroke="#0b7a3b" stroke-width=".8"/>
<circle cx="64.7" cy="66.19999999999999" r="36.2" fill="none" stroke="#0b7a3b" stroke-width=".7"/>
<circle cx="64.7" cy="66.19999999999999" r="33.6" fill="#0b7a3b"/>
<ellipse cx="22.2" cy="67.1" rx="1.3" ry="3" fill="#0b7a3b"/>
<ellipse cx="107.2" cy="67.1" rx="1.3" ry="3" fill="#0b7a3b"/>
<g aria-label="กระทรวงสาธารณสุข" fill="#0b7a3b" font-size="8.8" font-weight="700" text-anchor="middle">
<text transform="translate(28.43 51.25) rotate(291.6)">ก</text>
<text transform="translate(31.43 45.25) rotate(301.5)">ร</text>
<text transform="translate(34.55 40.86) rotate(309.4)">ะ</text>
<text transform="translate(38.64 36.58) rotate(318.1)">ท</text>
<text transform="translate(44.00 32.55) rotate(327.9)">ร</text>
<text transform="translate(49.52 29.68) rotate(337.1)">ว</text>
<text transform="translate(55.71 27.65) rotate(346.7)">ง</text>
<text transform="translate(62.65 26.65) rotate(357.0)">ส</text>
<text transform="translate(69.11 26.85) rotate(366.5)">า</text>
<text transform="translate(75.10 28.01) rotate(375.5)">ธ</text>
<text transform="translate(80.84 30.10) rotate(384.4)">า</text>
<text transform="translate(86.03 32.95) rotate(393.2)">ร</text>
<text transform="translate(92.37 38.12) rotate(405.2)">ณ</text>
<text transform="translate(97.79 44.95) rotate(418.0)">สุ</text>
<text transform="translate(101.00 51.34) rotate(428.6)">ข</text>
</g>
<g aria-label="MINISTRY OF PUBLIC HEALTH" fill="#0b7a3b" font-size="6" font-weight="700" text-anchor="middle">
<text transform="translate(22.11 81.34) rotate(69.7)">M</text>
<text transform="translate(23.87 85.46) rotate(64.1)">I</text>
<text transform="translate(25.86 89.10) rotate(58.8)">N</text>
<text transform="translate(28.16 92.55) rotate(53.6)">I</text>
<text transform="translate(30.67 95.65) rotate(48.6)">S</text>
<text transform="translate(34.16 99.19) rotate(42.3)">T</text>
<text transform="translate(38.07 102.37) rotate(35.9)">R</text>
<text transform="translate(42.41 105.15) rotate(29.4)">Y</text>
<text transform="translate(49.92 108.53) rotate(19.0)">O</text>
<text transform="translate(55.03 109.96) rotate(12.3)">F</text>
<text transform="translate(62.76 110.96) rotate(2.4)">P</text>
<text transform="translate(68.07 110.87) rotate(-4.3)">U</text>
<text transform="translate(73.50 110.14) rotate(-11.2)">B</text>
<text transform="translate(78.49 108.86) rotate(-17.7)">L</text>
<text transform="translate(82.07 107.55) rotate(-22.5)">I</text>
<text transform="translate(85.83 105.78) rotate(-27.7)">C</text>
<text transform="translate(92.78 101.27) rotate(-38.2)">H</text>
<text transform="translate(96.76 97.75) rotate(-44.9)">E</text>
<text transform="translate(100.29 93.78) rotate(-51.6)">A</text>
<text transform="translate(103.14 89.76) rotate(-57.8)">L</text>
<text transform="translate(105.38 85.76) rotate(-63.6)">T</text>
<text transform="translate(107.40 81.02) rotate(-70.1)">H</text>
</g>
<path d="M63.6,48 L65.8,48 L65.5,96 L63.900000000000006,96Z" fill="#f4fbf6"/>
<path d="M64.7,40.5 Q68.3,46 67.3,51 Q69.2,53 67.7,56 L61.7,56 Q60.2,53 62.1,51 Q61.1,46 64.7,40.5Z" fill="#f4fbf6"/>
<path d="M67.7,56.5 Q74.7,57 81.7,52.5 Q88.7,50 92.2,48.3 Q90.2,53.5 85.7,55.5 Q87.7,56 88.7,55.6 Q85.7,60 81.2,60.2 Q82.7,61 83.7,60.8 Q79.7,64.6 73.7,63.6 Q69.7,63 67.7,61Z" fill="#f4fbf6"/>
<path d="M61.7,56.5 Q54.7,57 47.7,52.5 Q40.7,50 37.2,48.3 Q39.2,53.5 43.7,55.5 Q41.7,56 40.7,55.6 Q43.7,60 48.2,60.2 Q46.7,61 45.7,60.8 Q49.7,64.6 55.7,63.6 Q59.7,63 61.7,61Z" fill="#f4fbf6"/>
<path d="M64.7,63.5 C48.7,61.5 45.7,71.5 55.7,72.5 C61.7,73 67.7,73 73.7,72.5 C83.7,71.5 80.7,61.5 64.7,63.5" fill="none" stroke="#f4fbf6" stroke-width="2.3"/>
<path d="M57.7,75 C56.7,80 70.7,80 69.7,84 C68.7,88 60.7,88 61.7,91 C62.7,93.5 66.7,93.5 64.7,96.5" fill="none" stroke="#f4fbf6" stroke-width="1.9"/>
<path d="M71.7,75 C72.7,80 58.7,80 59.7,84 C60.7,88 68.7,88 67.7,91 C66.7,93.5 62.7,93.5 64.7,96.5" fill="none" stroke="#f4fbf6" stroke-width="1.9"/>
<circle cx="214.5" cy="340" r="4.3" fill="#000"/>
<circle cx="214.5" cy="484.3" r="4.3" fill="#000"/>
<circle cx="233" cy="410.5" r="2.2" fill="none" stroke="#333" stroke-width="1"/>
<circle cx="233" cy="427.59999999999997" r="2.2" fill="none" stroke="#333" stroke-width="1"/>
<circle cx="233" cy="444.7" r="2.2" fill="none" stroke="#333" stroke-width="1"/>
<circle cx="233" cy="554.0" r="2.2" fill="none" stroke="#333" stroke-width="1"/>
<circle cx="233" cy="571.4000000000001" r="2.2" fill="none" stroke="#333" stroke-width="1"/>
<circle cx="42.7" cy="641" r="2.3" fill="#000"/>
<circle cx="42.7" cy="656.3" r="2.3" fill="#000"/>
<circle cx="191.7" cy="774.8" r="2.2" fill="#ffe3e3"/>
<circle cx="191.7" cy="794.8" r="2.2" fill="#ffe3e3"/>
<circle cx="191.7" cy="814.0999999999999" r="2.2" fill="#ffe3e3"/>
<circle cx="537.3" cy="779.3" r="2.1" fill="#000"/>
<text x="126.2" y="85" font-size="17" font-weight="700" fill="#fff" textLength="462" lengthAdjust="spacingAndGlyphs">ศูนย์ปฏิบัติการฉุกเฉินด้านการแพทย์และสาธารณสุข กระทรวงสาธารณสุข</text>
<text x="72.35" y="182.6" font-size="61.1" font-weight="700" fill="#fff" textLength="365" lengthAdjust="spacingAndGlyphs">สรุปสถานการณ์</text>
<text x="71.64" y="237.7" font-size="30" fill="#fff" textLength="693" lengthAdjust="spacingAndGlyphs">สู้รบชายแดนไทย–กัมพูชา ด้านการแพทย์และสาธารณสุข (รายวัน)</text>
<text x="830.63" y="190" font-size="25.2" font-weight="700" fill="#14213f" textLength="78.6" lengthAdjust="spacingAndGlyphs">สิงหาคม</text>
<text x="818.37" y="257.5" font-size="15.9" fill="#fff" textLength="88.7" lengthAdjust="spacingAndGlyphs">เวลา 10.00 น.</text>
<text x="34.99" y="304.5" font-size="27.6" font-weight="700" fill="#000" textLength="466" lengthAdjust="spacingAndGlyphs">1. สรุปสถานการณ์ด้านสุขภาพ (สะสม)</text>
<text x="67.52" y="412.3" font-size="27" font-weight="700" fill="#fff" textLength="100" lengthAdjust="spacingAndGlyphs">ผู้เสียชีวิต</text>
<text x="81.95" y="493.3" font-size="60.4" font-weight="700" fill="#fff" textLength="71.1" lengthAdjust="spacingAndGlyphs">17</text>
<text x="110.78" y="537.5" font-size="16.7" font-weight="700" fill="#fff" textLength="26.4" lengthAdjust="spacingAndGlyphs">ราย</text>
<text x="233.46" y="347" font-size="20.9" font-weight="700" fill="#000" textLength="134.4" lengthAdjust="spacingAndGlyphs">เสียชีวิตทางตรง</text>
<text x="265.94" y="389.3" font-size="39.5" font-weight="700" fill="#000" textLength="46.8" lengthAdjust="spacingAndGlyphs">14</text>
<text x="327.07" y="389.3" font-size="14.1" font-weight="700" fill="#000" textLength="21.7" lengthAdjust="spacingAndGlyphs">ราย</text>
<text x="249.74" y="415.8" font-size="15.6" fill="#222" textLength="82.9" lengthAdjust="spacingAndGlyphs">อุบลราชธานี</text>
<text x="333.05" y="415.8" font-size="15.6" fill="#222">1</text>
<text x="346.26" y="415.8" font-size="15.6" fill="#222" textLength="22.8" lengthAdjust="spacingAndGlyphs">ราย</text>
<text x="249.46" y="432.9" font-size="15.6" fill="#222" textLength="53.6" lengthAdjust="spacingAndGlyphs">ศรีสะเกษ</text>
<text x="334.41" y="432.9" font-size="15.6" fill="#222">9</text>
<text x="346.26" y="432.9" font-size="15.6" fill="#222" textLength="22.8" lengthAdjust="spacingAndGlyphs">ราย</text>
<text x="249.76" y="450" font-size="15.6" fill="#222" textLength="49.2" lengthAdjust="spacingAndGlyphs">สุรินทร์</text>
<text x="334.08" y="450" font-size="15.6" fill="#222">4</text>
<text x="346.26" y="450" font-size="15.6" fill="#222" textLength="22.8" lengthAdjust="spacingAndGlyphs">ราย</text>
<text x="233.45" y="490.8" font-size="20.9" font-weight="700" fill="#000" textLength="136.9" lengthAdjust="spacingAndGlyphs">เสียชีวิตทางอ้อม</text>
<text x="249.74" y="559.3" font-size="15.6" fill="#222" textLength="82.9" lengthAdjust="spacingAndGlyphs">อุบลราชธานี</text>
<text x="333.05" y="559.3" font-size="15.6" fill="#222">1</text>
<text x="346.26" y="559.3" font-size="15.6" fill="#222" textLength="22.8" lengthAdjust="spacingAndGlyphs">ราย</text>
<text x="249.76" y="576.7" font-size="15.6" fill="#222" textLength="49.2" lengthAdjust="spacingAndGlyphs">สุรินทร์</text>
<text x="333.7" y="576.7" font-size="15.6" fill="#222">2</text>
<text x="346.26" y="576.7" font-size="15.6" fill="#222" textLength="22.8" lengthAdjust="spacingAndGlyphs">ราย</text>
<text x="434.75" y="415" font-size="26.7" font-weight="700" fill="#fff" textLength="95.9" lengthAdjust="spacingAndGlyphs">ผู้บาดเจ็บ</text>
<text x="468.76" y="537.3" font-size="16.7" font-weight="700" fill="#fff" textLength="27.2" lengthAdjust="spacingAndGlyphs">ราย</text>
<text x="567.59" y="326" font-size="15.4" font-weight="700" fill="#000" textLength="77.9" lengthAdjust="spacingAndGlyphs">บาดเจ็บสาหัส</text>
<g filter="url(#ts)" opacity="0.5"><text x="591.19" y="378.6" font-size="31.6" font-weight="700" fill="#000" textLength="39.5" lengthAdjust="spacingAndGlyphs">12</text></g>
<text x="590.19" y="377" font-size="31.6" font-weight="700" fill="#fff" textLength="39.5" lengthAdjust="spacingAndGlyphs">12</text>
<text x="652.24" y="386.7" font-size="14.1" font-weight="700" fill="#000" textLength="23.6" lengthAdjust="spacingAndGlyphs">ราย</text>
<text x="567.59" y="424" font-size="15.4" font-weight="700" fill="#000" textLength="93.2" lengthAdjust="spacingAndGlyphs">บาดเจ็บเล็กน้อย</text>
<g filter="url(#ts)" opacity="0.4"><text x="592.56" y="484.2" font-size="34.3" font-weight="700" fill="#000" textLength="39.9" lengthAdjust="spacingAndGlyphs">13</text></g>
<text x="591.56" y="482.6" font-size="34.3" font-weight="700" fill="#000" textLength="39.9" lengthAdjust="spacingAndGlyphs">13</text>
<text x="655.56" y="486" font-size="14.1" font-weight="700" fill="#000" textLength="22.5" lengthAdjust="spacingAndGlyphs">ราย</text>
<text x="572.59" y="524" font-size="15.4" font-weight="700" fill="#000" textLength="93.2" lengthAdjust="spacingAndGlyphs">บาดเจ็บเล็กน้อย</text>
<g filter="url(#ts)" opacity="0.4"><text x="595.24" y="582.3" font-size="31.6" font-weight="700" fill="#000" textLength="40.3" lengthAdjust="spacingAndGlyphs">14</text></g>
<text x="594.24" y="580.7" font-size="31.6" font-weight="700" fill="#000" textLength="40.3" lengthAdjust="spacingAndGlyphs">14</text>
<text x="656.25" y="600.7" font-size="14.1" font-weight="700" fill="#000" textLength="22.8" lengthAdjust="spacingAndGlyphs">ราย</text>
<text x="755.63" y="429" font-size="25.6" font-weight="700" fill="#fff" textLength="118.2" lengthAdjust="spacingAndGlyphs">รวมทั้งหมด</text>
<text x="847.17" y="533" font-size="16.7" font-weight="700" fill="#fff" textLength="26.7" lengthAdjust="spacingAndGlyphs">ราย</text>
<text x="35.95" y="627.3" font-size="13.3" font-weight="700" fill="#000" textLength="57.5" lengthAdjust="spacingAndGlyphs">หมายเหตุ</text>
<text x="59.97" y="646.3" font-size="16.7" fill="#222" textLength="587" lengthAdjust="spacingAndGlyphs">การเสียชีวิตทางตรง: เกิดจากสาเหตุของภัยหรือเหตุการณ์โดยตรง เช่น ถูกระเบิดหรือกระสุนในสงคราม</text>
<text x="59.97" y="661.3" font-size="16.7" fill="#222" textLength="726" lengthAdjust="spacingAndGlyphs">การเสียชีวิตทางอ้อม: เกิดจากผลกระทบทางอ้อม เช่น ขาดการเข้าถึงบริการทางการแพทย์ โรคเรื้อรังไม่ได้รับยา โรคจิตเวชกำเริบ</text>
<text x="49.96" y="695" font-size="25.4" font-weight="700" fill="#000" textLength="383.4" lengthAdjust="spacingAndGlyphs">รายละเอียดผู้รับการรักษาในโรงพยาบาล</text>
<text x="72.22" y="741" font-size="23.5" font-weight="700" fill="#fff" textLength="118.4" lengthAdjust="spacingAndGlyphs">บาดเจ็บสาหัส</text>
<text x="107.86" y="821.7" font-size="14.3" font-weight="700" fill="#fff" textLength="22.2" lengthAdjust="spacingAndGlyphs">ราย</text>
<text x="206.2" y="779" font-size="16.7" font-weight="700" fill="#ffe3e3" textLength="183" lengthAdjust="spacingAndGlyphs">รพ.สรรพสิทธิประสงค์ 1 ราย</text>
<text x="206.2" y="799" font-size="16.7" font-weight="700" fill="#ffe3e3" textLength="124.7" lengthAdjust="spacingAndGlyphs">รพ.ศรีสะเกษ 3 ราย</text>
<text x="206.18" y="818.3" font-size="16.7" font-weight="700" fill="#ffe3e3" textLength="110.7" lengthAdjust="spacingAndGlyphs">รพ.สุรินทร์ 1 ราย</text>
<text x="408.23" y="741" font-size="23.5" font-weight="700" fill="#000" textLength="152.1" lengthAdjust="spacingAndGlyphs">บาดเจ็บปานกลาง</text>
<text x="453.66" y="795.8" font-size="54.7" font-weight="700" fill="#000">1</text>
<text x="453.53" y="821.7" font-size="14.3" font-weight="700" fill="#000" textLength="39" lengthAdjust="spacingAndGlyphs">-1 ราย</text>
<text x="552.32" y="783.3" font-family="'Liberation Serif',serif" font-size="14.2" font-weight="700" fill="#000" textLength="133.2" lengthAdjust="spacingAndGlyphs">รพ.กันทรลักษ์ 1 ราย</text>
<g aria-label="(REFER มาจาก รพ.เบญจลักษ์)" fill="#000" font-family="'Liberation Serif',serif" font-weight="700">
<text x="525.89" y="801.7" font-size="17.3" textLength="68.5" lengthAdjust="spacingAndGlyphs">(REFER</text>
<text x="598.95" y="801.7" font-size="14.2" textLength="134" lengthAdjust="spacingAndGlyphs">มาจาก รพ.เบญจลักษ์</text>
<text x="732.98" y="801.7" font-size="17.3">)</text>
</g>
<text x="778.63" y="741" font-size="22.2" font-weight="700" fill="#000" textLength="102.5" lengthAdjust="spacingAndGlyphs">รวมทั้งหมด</text>
<text x="822.24" y="820.7" font-size="14.3" font-weight="700" fill="#000" textLength="38.6" lengthAdjust="spacingAndGlyphs">-1 ราย</text>
<text x="27.11" y="873.5" font-size="26.2" font-weight="700" fill="#000" textLength="559" lengthAdjust="spacingAndGlyphs">2. ข้อมูลสถานพยาบาลที่ได้รับผลกระทบ (สะสม)</text>
<text x="253.58" y="906.2" font-size="20.9" font-weight="700" fill="#000" textLength="299.6" lengthAdjust="spacingAndGlyphs">2.1 โรงพยาบาลที่ได้รับผลกระทบ</text>
<text x="249.57" y="1157" font-size="21.3" font-weight="700" fill="#000" textLength="495.8" lengthAdjust="spacingAndGlyphs">2.2 โรงพยาบาลส่งเสริมสุขภาพตำบลที่ได้รับผลกระทบ</text>
<text x="355.37" y="946" font-size="21.85" font-weight="700" fill="#000" textLength="188.5" lengthAdjust="spacingAndGlyphs">ได้รับผลกระทบทั้งหมด :</text>
<text x="731.53" y="946.3" font-size="20" font-weight="700" fill="#000" textLength="33.8" lengthAdjust="spacingAndGlyphs">แห่ง</text>
<text x="354.27" y="989.3" font-size="19.6" fill="#222" textLength="67.3" lengthAdjust="spacingAndGlyphs">เปิดปกติ :</text>
<text x="730.73" y="989" font-size="18.5" fill="#222" textLength="30.2" lengthAdjust="spacingAndGlyphs">แห่ง</text>
<g aria-label="(+1) แห่ง" fill="#1d6b4a" font-family="'Liberation Serif',serif" font-weight="700"><text x="789.28" y="988.3" font-size="14.07" textLength="28.5" lengthAdjust="spacingAndGlyphs">(+1)</text><text x="821.92" y="988.3" font-size="11.26" textLength="22.2" lengthAdjust="spacingAndGlyphs">แห่ง</text></g>
<text x="354.28" y="1034" font-size="19.6" fill="#222" textLength="91.6" lengthAdjust="spacingAndGlyphs">เปิดบางส่วน :</text>
<text x="730.73" y="1033.7" font-size="18.5" fill="#222" textLength="30.2" lengthAdjust="spacingAndGlyphs">แห่ง</text>
<g aria-label="(-1) แห่ง" fill="#d0282e" font-family="'Liberation Serif',serif" font-weight="700"><text x="789.28" y="1033" font-size="14.07" textLength="24.6" lengthAdjust="spacingAndGlyphs">(-1)</text><text x="817.97" y="1033" font-size="11.26" textLength="22.2" lengthAdjust="spacingAndGlyphs">แห่ง</text></g>
<text x="354.68" y="1078.3" font-size="19.6" fill="#222" textLength="75.5" lengthAdjust="spacingAndGlyphs">ปิดบริการ :</text>
<text x="730.73" y="1078" font-size="18.5" fill="#222" textLength="30.2" lengthAdjust="spacingAndGlyphs">แห่ง</text>
<text x="354.27" y="1122.5" font-size="19.6" fill="#222" textLength="199.1" lengthAdjust="spacingAndGlyphs">ผู้ป่วยในโรงพยาบาลที่อพยพ:</text>
<text x="731.15" y="1122.2" font-size="18.5" fill="#222" textLength="26" lengthAdjust="spacingAndGlyphs">ราย</text>
<g aria-label="(+15) แห่ง" fill="#1d6b4a" font-family="'Liberation Serif',serif" font-weight="700"><text x="789.27" y="1121.5" font-size="14.07" textLength="36.9" lengthAdjust="spacingAndGlyphs">(+15)</text><text x="830.32" y="1121.5" font-size="11.26" textLength="22.4" lengthAdjust="spacingAndGlyphs">แห่ง</text></g>
<text x="357.88" y="1196.5" font-size="21.85" font-weight="700" fill="#000" textLength="190.2" lengthAdjust="spacingAndGlyphs">ได้รับผลกระทบทั้งหมด :</text>
<text x="734.51" y="1196.3" font-size="20" font-weight="700" fill="#000" textLength="34.3" lengthAdjust="spacingAndGlyphs">แห่ง</text>
<text x="357.27" y="1238.5" font-size="19.6" fill="#222" textLength="67.3" lengthAdjust="spacingAndGlyphs">เปิดปกติ :</text>
<text x="733.76" y="1238.2" font-size="18.5" fill="#222" textLength="29.6" lengthAdjust="spacingAndGlyphs">แห่ง</text>
<g aria-label="(+1) แห่ง" fill="#1d6b4a" font-family="'Liberation Serif',serif" font-weight="700"><text x="790.26" y="1236.5" font-size="14.07" textLength="29.3" lengthAdjust="spacingAndGlyphs">(+1)</text><text x="823.81" y="1236.5" font-size="11.26" textLength="22.9" lengthAdjust="spacingAndGlyphs">แห่ง</text></g>
<text x="357.28" y="1282.5" font-size="19.6" fill="#222" textLength="91.6" lengthAdjust="spacingAndGlyphs">เปิดบางส่วน :</text>
<text x="733.76" y="1282.2" font-size="18.5" fill="#222" textLength="29.6" lengthAdjust="spacingAndGlyphs">แห่ง</text>
<text x="357.68" y="1325" font-size="19.6" fill="#222" textLength="75.5" lengthAdjust="spacingAndGlyphs">ปิดบริการ :</text>
<text x="733.76" y="1324.7" font-size="18.5" fill="#222" textLength="29.6" lengthAdjust="spacingAndGlyphs">แห่ง</text>
<g aria-label="(-1) แห่ง" fill="#d0282e" font-family="'Liberation Serif',serif" font-weight="700"><text x="790.27" y="1323" font-size="14.07" textLength="24.8" lengthAdjust="spacingAndGlyphs">(-1)</text><text x="819.25" y="1323" font-size="11.26" textLength="22.4" lengthAdjust="spacingAndGlyphs">แห่ง</text></g>
</svg>
<div class="n" style="left:125.84px;top:92.87px;font:400 12.79px/1 'Liberation Sans',sans-serif;color:#e6f0fa;transform:scaleX(1.1051);transform-origin:0 0">PUBLIC HEALTH EMERGENCY OPERATION CENTER : PHEOC</div>
<div class="n" style="left:862.42px;top:142.03px;font:700 22.06px/1 'Liberation Sans',sans-serif;color:#14213f;transform:scaleX(1.1402);transform-origin:0 0">7</div>
<div class="n" style="left:843.50px;top:199.82px;font:700 21.48px/1 'Liberation Sans',sans-serif;color:#14213f;transform:scaleX(1.0779);transform-origin:0 0">2568</div>
<div class="n" style="left:276.58px;top:502.05px;font:700 40.10px/1 'Liberation Sans',sans-serif;color:#000;transform:scaleX(1.0034);transform-origin:0 0">3</div>
<div class="n" style="left:447.82px;top:441.41px;font:700 61.30px/1 'Liberation Sans',sans-serif;color:#fff;transform:scaleX(1.0543);transform-origin:0 0">39</div>
<div class="n" style="left:778.60px;top:457.10px;font:700 62.73px/1 'Liberation Sans',sans-serif;color:#fff;transform:scaleX(1.0369);transform-origin:0 0">56</div>
<div class="n" style="left:103.35px;top:750.93px;font:700 54.42px/1 'Liberation Sans',sans-serif;color:#fff;transform:scaleX(0.9860);transform-origin:0 0">5</div>
<div class="n" style="left:827.22px;top:749.33px;font:700 55.14px/1 'Liberation Sans',sans-serif;color:#000;transform:scaleX(1.0280);transform-origin:0 0">6</div>
<div class="n" style="left:687.54px;top:932.36px;font:700 18.80px/1 'Liberation Serif',serif;color:#000;transform:scaleX(1.2700);transform-origin:0 0">20</div>
<div class="n" style="left:699.26px;top:975.86px;font:700 18.80px/1 'Liberation Serif',serif;color:#000;transform:scaleX(1.2700);transform-origin:0 0">6</div>
<div class="n" style="left:689.18px;top:1020.56px;font:700 18.80px/1 'Liberation Serif',serif;color:#000;transform:scaleX(1.2700);transform-origin:0 0">11</div>
<div class="n" style="left:699.38px;top:1064.86px;font:700 18.80px/1 'Liberation Serif',serif;color:#000;transform:scaleX(1.2700);transform-origin:0 0">3</div>
<div class="n" style="left:675.49px;top:1109.06px;font:700 18.80px/1 'Liberation Serif',serif;color:#000;transform:scaleX(1.2700);transform-origin:0 0">868</div>
<div class="n" style="left:677.56px;top:1182.36px;font:700 18.80px/1 'Liberation Serif',serif;color:#000;transform:scaleX(1.2700);transform-origin:0 0">149</div>
<div class="n" style="left:689.42px;top:1224.86px;font:700 18.80px/1 'Liberation Serif',serif;color:#000;transform:scaleX(1.2700);transform-origin:0 0">38</div>
<div class="n" style="left:689.86px;top:1268.86px;font:700 18.80px/1 'Liberation Serif',serif;color:#000;transform:scaleX(1.2700);transform-origin:0 0">31</div>
<div class="n" style="left:689.54px;top:1311.36px;font:700 18.80px/1 'Liberation Serif',serif;color:#000;transform:scaleX(1.2700);transform-origin:0 0">80</div>
</body></html>
